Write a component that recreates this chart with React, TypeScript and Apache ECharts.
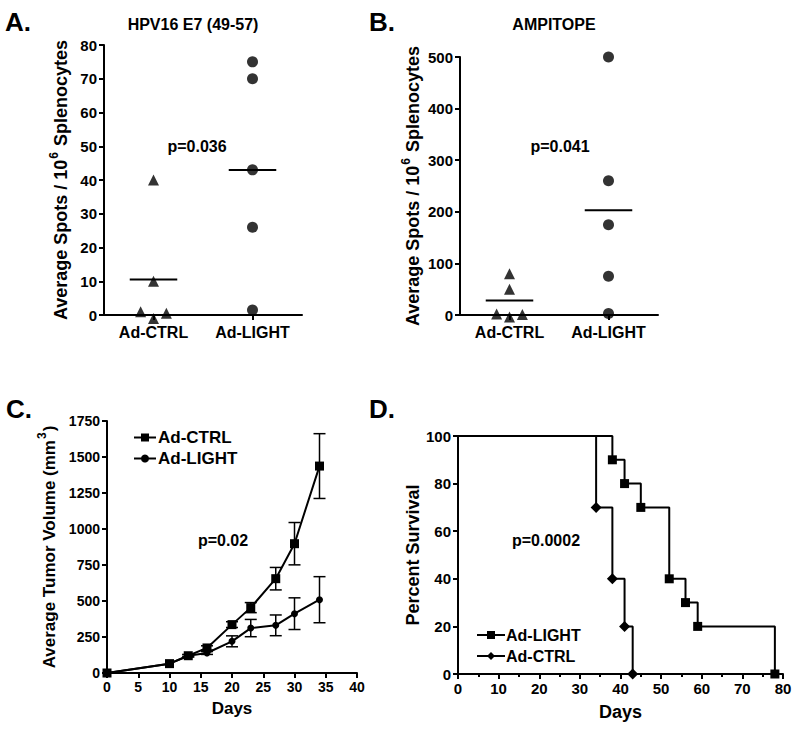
import React, { useEffect, useRef } from 'react';
import * as echarts from 'echarts';

const FONT = '"Liberation Sans", Arial, Helvetica, sans-serif';

// Panels A & B: categories and individual values
const groupsAB = ['Ad-CTRL', 'Ad-LIGHT'];
const ctrlJitter = [0, 0, -0.13, 0, 0.13];
const lightJitter = [0, 0, 0, 0, 0];
const aCtrl = [40, 10, 1, -1, 0.5];
const aLight = [75, 70, 43, 26, 1.5];
const aMeans = [10.5, 43];
const bCtrl = [80, 50, 2, -4, 1];
const bLight = [500, 260, 175, 75, 3];
const bMeans = [28, 203];

// Panel C: tumor growth (mean ± SEM)
const cDays = [0, 10, 13, 16, 20, 23, 27, 30, 34];
const cCtrlMean = [0, 65, 120, 174, 336, 454, 655, 898, 1437];
const cCtrlErr = [0, 4, 8, 15, 20, 35, 78, 147, 225];
const cLightMean = [0, 65, 120, 139, 220, 312, 331, 412, 509];
const cLightErr = [0, 4, 8, 10, 38, 60, 72, 110, 160];

// Panel D: survival
const dLightDays = [0, 38, 41, 45, 52, 56, 59, 78];
const dLightSurv = [100, 90, 80, 70, 40, 30, 20, 0];
const dCtrlDays = [0, 34, 38, 41, 43];
const dCtrlSurv = [100, 70, 40, 20, 0];

const BLACK = '#000';
const axisLine = { show: true, onZero: false, lineStyle: { color: BLACK, width: 2 } };
const axisTick = { show: true, inside: false, length: 5, lineStyle: { color: BLACK, width: 2 } };
const tickLabel = (size: number) => ({ color: BLACK, fontWeight: 'bold', fontSize: size, fontFamily: FONT, formatter: (v: any) => String(v) });
const nameStyle = (size: number) => ({ color: BLACK, fontWeight: 'bold', fontSize: size, fontFamily: FONT });
const supName = (size: number) => ({
  ...nameStyle(size),
  rich: {
    a: { color: BLACK, fontWeight: 'bold', fontSize: size, fontFamily: FONT, lineHeight: 22, verticalAlign: 'bottom' },
    s: { color: BLACK, fontWeight: 'bold', fontSize: 12, fontFamily: FONT, lineHeight: 22, verticalAlign: 'top', padding: [0, 1, 0, 1] },
  },
});

function scatterSeries(name: string, vals: number[], jit: number[], idx: number, xAxisIndex: number, yAxisIndex: number, symbol: string, size: number) {
  return {
    name,
    type: 'scatter',
    xAxisIndex,
    yAxisIndex,
    symbol,
    symbolSize: size,
    clip: false,
    itemStyle: { color: BLACK },
    data: vals.map((v, i) => [idx + jit[i], v]),
    z: 5,
  };
}

function meanSeries(means: number[], xAxisIndex: number, yAxisIndex: number) {
  return means.map((m, i) => ({
    type: 'line',
    xAxisIndex,
    yAxisIndex,
    symbol: 'none',
    lineStyle: { color: BLACK, width: 2 },
    data: [[i - 0.24, m], [i + 0.24, m]],
    z: 4,
  }));
}

function errorSeries(means: number[], errs: number[], xAxisIndex: number, yAxisIndex: number) {
  const data = cDays.map((d, i) => [d, means[i] - errs[i], means[i] + errs[i]]).filter((_, i) => errs[i] > 6);
  return {
    type: 'custom',
    xAxisIndex,
    yAxisIndex,
    data,
    encode: { x: 0, y: [1, 2] },
    z: 3,
    renderItem: (params: any, api: any) => {
      const x = api.value(0);
      const lo = api.coord([x, api.value(1)]);
      const hi = api.coord([x, api.value(2)]);
      const w = 6;
      const st = { stroke: BLACK, lineWidth: 1.5 };
      return {
        type: 'group',
        children: [
          { type: 'line', shape: { x1: hi[0], y1: hi[1], x2: lo[0], y2: lo[1] }, style: st },
          { type: 'line', shape: { x1: hi[0] - w, y1: hi[1], x2: hi[0] + w, y2: hi[1] }, style: st },
          { type: 'line', shape: { x1: lo[0] - w, y1: lo[1], x2: lo[0] + w, y2: lo[1] }, style: st },
        ],
      };
    },
  };
}

function txt(text: string, x: number, y: number, size: number) {
  return {
    type: 'text',
    x,
    y,
    style: { text, fill: BLACK, font: `bold ${size}px ${FONT}`, textAlign: 'center', textVerticalAlign: 'middle' },
  };
}

export default function App() {
  const ref = useRef<HTMLDivElement>(null);
  useEffect(() => {
    if (!ref.current) return;
    const chart = echarts.init(ref.current, undefined, { renderer: 'svg' });
    const catAxis = (gridIndex: number) => ({
      type: 'category',
      gridIndex,
      data: groupsAB,
      boundaryGap: true,
      axisLine,
      axisTick: { ...axisTick, alignWithLabel: true },
      axisLabel: { color: BLACK, fontWeight: 'bold', fontSize: 16, fontFamily: FONT, margin: 9 },
      splitLine: { show: false },
    });
    const hiddenX = (gridIndex: number) => ({ type: 'value', gridIndex, min: -0.5, max: 1.5, show: false });

    const option: any = {
      animation: false,
      backgroundColor: '#fff',
      grid: [
        { left: 104, top: 45, width: 198, height: 270 },
        { left: 460, top: 57, width: 198, height: 258 },
        { left: 107, top: 421, width: 250, height: 252 },
        { left: 458, top: 436, width: 325, height: 238 },
      ],
      xAxis: [
        catAxis(0),
        hiddenX(0),
        catAxis(1),
        hiddenX(1),
        {
          type: 'value', gridIndex: 2, min: 0, max: 40, interval: 5,
          axisLine, axisTick, axisLabel: { ...tickLabel(14), margin: 7 }, splitLine: { show: false },
          name: 'Days', nameLocation: 'middle', nameGap: 27, nameTextStyle: nameStyle(17),
        },
        {
          type: 'value', gridIndex: 3, min: 0, max: 80, interval: 10,
          axisLine, axisTick, axisLabel: { ...tickLabel(15), margin: 7 }, splitLine: { show: false },
          minorTick: { show: true, splitNumber: 2, length: 3, lineStyle: { color: BLACK, width: 2 } },
          name: 'Days', nameLocation: 'middle', nameGap: 29, nameTextStyle: nameStyle(18),
        },
      ],
      yAxis: [
        {
          type: 'value', gridIndex: 0, min: 0, max: 80, interval: 10,
          axisLine, axisTick, axisLabel: { ...tickLabel(15), margin: 7 }, splitLine: { show: false },
          name: '{a|Average Spots / 10}{s|6}{a| Splenocytes}', nameLocation: 'middle', nameGap: 34, nameTextStyle: supName(18),
        },
        {
          type: 'value', gridIndex: 1, min: 0, max: 500, interval: 100,
          axisLine, axisTick, axisLabel: { ...tickLabel(15), margin: 7 }, splitLine: { show: false },
          name: '{a|Average Spots / 10}{s|6}{a| Splenocytes}', nameLocation: 'middle', nameGap: 38, nameTextStyle: supName(18),
        },
        {
          type: 'value', gridIndex: 2, min: 0, max: 1750, interval: 250,
          axisLine, axisTick, axisLabel: { ...tickLabel(14), margin: 7 }, splitLine: { show: false },
          name: '{a|Average Tumor Volume (mm}{s|3}{a|)}', nameLocation: 'middle', nameGap: 49, nameTextStyle: supName(17),
        },
        {
          type: 'value', gridIndex: 3, min: 0, max: 100, interval: 20,
          axisLine, axisTick, axisLabel: { ...tickLabel(15), margin: 7 }, splitLine: { show: false },
          name: 'Percent Survival', nameLocation: 'middle', nameGap: 34, nameTextStyle: nameStyle(18),
        },
      ],
      legend: [
        {
          data: ['Ad-CTRL', 'Ad-LIGHT'],
          orient: 'vertical', left: 128, top: 424, itemWidth: 22, itemHeight: 10, itemGap: 4,
          textStyle: { ...nameStyle(17), padding: [0, 0, 0, -3] },
          selectedMode: false,
        },
        {
          data: ['Ad-LIGHT ', 'Ad-CTRL '],
          orient: 'vertical', left: 471, top: 622, itemWidth: 28, itemHeight: 10, itemGap: 5,
          formatter: (n: string) => n.trim(),
          textStyle: { ...nameStyle(16), padding: [0, 0, 0, -4] },
          selectedMode: false,
        },
      ],
      graphic: [
        txt('A.', 18, 22, 26),
        txt('B.', 382, 22, 26),
        txt('C.', 19, 409, 26),
        txt('D.', 382, 409, 26),
        txt('HPV16 E7 (49-57)', 193, 24, 16),
        txt('AMPITOPE', 554, 24, 16),
        txt('p=0.036', 197, 146, 16),
        txt('p=0.041', 560, 146, 16),
        txt('p=0.02', 223, 540, 16),
        txt('p=0.0002', 546, 540, 16),
      ],
      series: [
        scatterSeries('A ctrl', aCtrl, ctrlJitter, 0, 1, 0, 'triangle', 11),
        scatterSeries('A light', aLight, lightJitter, 1, 1, 0, 'circle', 11),
        ...meanSeries(aMeans, 1, 0),
        scatterSeries('B ctrl', bCtrl, ctrlJitter, 0, 3, 1, 'triangle', 11),
        scatterSeries('B light', bLight, lightJitter, 1, 3, 1, 'circle', 11),
        ...meanSeries(bMeans, 3, 1),
        errorSeries(cCtrlMean, cCtrlErr, 4, 2),
        errorSeries(cLightMean, cLightErr, 4, 2),
        {
          name: 'Ad-CTRL', type: 'line', xAxisIndex: 4, yAxisIndex: 2,
          symbol: 'rect', symbolSize: 9, clip: false,
          lineStyle: { color: BLACK, width: 2 }, itemStyle: { color: BLACK },
          data: cDays.map((d, i) => [d, cCtrlMean[i]]), z: 5,
        },
        {
          name: 'Ad-LIGHT', type: 'line', xAxisIndex: 4, yAxisIndex: 2,
          symbol: 'circle', symbolSize: 7, clip: false,
          lineStyle: { color: BLACK, width: 2 }, itemStyle: { color: BLACK },
          data: cDays.map((d, i) => [d, cLightMean[i]]), z: 5,
        },
        {
          name: 'Ad-LIGHT ', type: 'line', xAxisIndex: 5, yAxisIndex: 3,
          step: 'end', symbol: 'rect', symbolSize: 9, clip: false,
          lineStyle: { color: BLACK, width: 2 }, itemStyle: { color: BLACK },
          data: dLightDays.map((d, i) => (i === 0 ? { value: [d, dLightSurv[i]], symbol: 'none' } : [d, dLightSurv[i]])),
          z: 5,
        },
        {
          name: 'Ad-CTRL ', type: 'line', xAxisIndex: 5, yAxisIndex: 3,
          step: 'end', symbol: 'diamond', symbolSize: 11, clip: false,
          lineStyle: { color: BLACK, width: 2 }, itemStyle: { color: BLACK },
          data: dCtrlDays.map((d, i) => (i === 0 ? { value: [d, dCtrlSurv[i]], symbol: 'none' } : [d, dCtrlSurv[i]])),
          z: 5,
        },
      ],
    };
    chart.setOption(option);
    return () => chart.dispose();
  }, []);
  return <div ref={ref} style={{ position: 'fixed', left: 0, top: 0, width: 800, height: 729, background: '#fff' }} />;
}
